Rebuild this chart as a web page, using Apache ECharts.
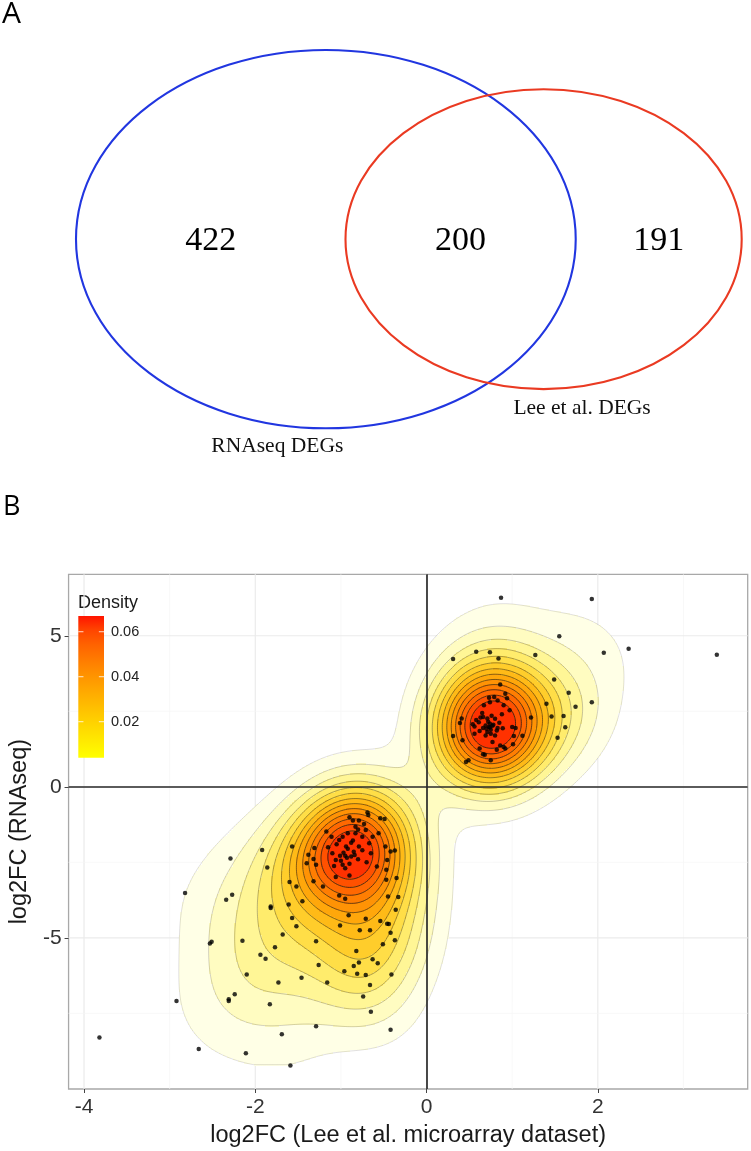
<!DOCTYPE html>
<html><head><meta charset="utf-8">
<script src="https://cdn.jsdelivr.net/npm/echarts@6/dist/echarts.min.js"></script>
<style>html,body{margin:0;padding:0;background:#fff}#c{width:751px;height:1151px}</style>
</head><body><div id="c"></div><script>
// ================= DATA =================
const vennSetNames = ['RNAseq DEGs', 'Lee et al. DEGs'];
const vennRegionCounts = [422, 200, 191]; // RNAseq only, both, Lee only

// log2FC pairs [Lee microarray, RNAseq]
const genePoints = [
[0.87,6.26],[1.93,6.22],[1.55,4.98],[2.07,4.44],[2.36,4.57],[3.39,4.37],[0.31,4.23],[0.58,4.47],[0.74,4.45],[0.84,4.25],
[1.27,4.36],[1.49,3.55],[1.66,3.11],[1.74,2.65],[1.93,2.80],[1.40,2.75],[1.60,2.34],[1.46,2.33],[1.62,1.97],[1.53,1.62],
[1.22,2.29],[1.12,1.69],[0.86,3.39],[0.31,1.68],[0.39,2.11],[0.41,2.26],[0.46,0.82],[0.49,0.88],[0.75,0.88],[0.66,1.08],
[0.68,1.06],[0.62,1.27],[0.90,1.32],[0.92,1.27],[0.82,1.23],[1.01,1.41],[1.02,1.68],[0.42,1.54],
[0.56,2.00],[0.54,2.07],[0.58,2.21],[0.65,2.44],[0.67,2.70],[0.73,2.95],[0.79,2.97],[0.83,2.86],[0.74,2.80],[0.92,3.08],
[0.94,2.93],[0.90,2.70],[0.89,1.94],[1.04,1.95],[0.74,2.09],[0.73,1.98],[0.75,1.89],[0.71,1.81],[0.75,1.76],[0.77,1.48],
[0.69,1.70],[0.61,2.14],[0.63,2.29],[0.56,1.76],[0.66,2.31],[0.69,2.03],[0.82,1.86],[0.86,1.37],[1.00,1.98],[0.97,2.53],
[0.72,2.15],[0.78,2.05],[0.70,1.92],[0.80,2.25],[0.85,2.12],[0.66,1.95],[0.76,2.35],[0.88,2.40],[0.62,1.85],[0.80,1.70],
[0.77,2.02],[0.74,1.96],[0.83,1.95],[0.71,2.26],
[-0.69,-0.85],[-0.68,-0.93],[-0.54,-1.04],[-0.49,-1.07],[-0.90,-1.01],[-0.86,-1.12],[-0.79,-1.12],[-0.73,-1.23],[-0.83,-1.32],[-0.92,-1.54],
[-0.98,-1.65],[-1.17,-1.48],[-1.11,-1.65],[-1.02,-1.76],[-0.94,-1.98],[-1.01,-2.28],[-0.95,-2.28],[-0.88,-2.31],[-1.06,-2.42],[-0.98,-2.58],
[-1.31,-2.03],[-1.38,-2.25],[-1.32,-2.39],[-1.40,-2.53],[-1.29,-2.58],[-1.57,-1.98],[-1.92,-2.09],[-2.29,-2.37],[-1.86,-2.67],[-0.71,-1.43],
[-0.63,-1.65],[-0.56,-1.54],[-0.48,-1.98],[-0.42,-2.14],[-0.37,-2.11],[-0.46,-2.42],[-0.58,-2.64],[-0.75,-1.65],[-0.83,-1.54],[-0.80,-1.41],
[-0.67,-1.87],[-0.65,-2.20],[-0.79,-1.98],[-0.86,-1.78],
[-0.92,-2.05],[-0.85,-2.15],[-1.00,-2.45],[-0.90,-2.55],[-1.10,-2.20],[-0.80,-2.40],[-0.95,-2.70],[-1.15,-2.00],[-0.75,-2.10],[-1.05,-1.90],
[-0.88,-1.85],[-0.70,-2.50],[-0.93,-2.35],[-0.97,-2.18],[-0.84,-2.26],[-1.08,-2.62],
[-1.60,-3.15],[-1.52,-3.30],[-2.82,-3.52],[-2.34,-3.74],[-2.27,-3.57],[-1.82,-3.96],[-1.82,-4.01],[-1.61,-3.90],[-1.45,-3.79],[-1.57,-4.34],
[-1.52,-4.62],[-1.68,-4.89],[-1.77,-5.31],[-2.53,-5.19],[-2.51,-5.13],[-2.15,-5.10],[-1.94,-5.56],[-1.88,-5.69],[-2.10,-6.21],[-1.73,-6.48],
[-1.46,-6.32],[-1.29,-5.11],[-1.26,-5.90],[-1.16,-6.48],[-1.01,-4.59],[-0.91,-4.25],[-0.96,-6.11],[-0.82,-5.44],[-0.81,-6.19],[-0.78,-4.75],
[-0.71,-6.23],[-0.85,-5.93],[-0.79,-5.82],[-0.71,-4.37],[-0.66,-4.75],[-0.63,-5.71],[-0.57,-5.84],[-0.54,-4.44],[-0.51,-5.21],[-0.46,-4.53],
[-0.45,-3.63],[-0.42,-4.83],[-0.41,-6.21],[-0.37,-5.08],[-0.36,-4.07],[-0.66,-6.56],[-0.74,-6.94],[-0.65,-7.45],[-0.42,-8.04],[-1.29,-7.93],
[-1.69,-8.19],[-1.83,-7.20],[-2.11,-8.82],[-1.59,-9.23],[-2.31,-7.03],[-2.31,-7.09],[-2.24,-6.87],[-2.92,-7.09],[-2.66,-8.68],[-3.82,-8.30],
[-1.02,-3.60],[-0.95,-3.71],[-1.21,-3.30],[-1.32,-3.13],[-0.47,-2.75],[-1.06,-2.99],[-0.90,-2.94],[-0.47,-3.08],[-0.35,-3.02],[-0.33,-3.65],
[-0.44,-4.54]
];

const densityLevels = [0.005,0.010,0.015,0.020,0.025,0.030,0.035,0.040,0.045,0.050,0.055,0.060,0.065];
const legendRange = [0.004, 0.067];
const legendTicks = [0.02, 0.04, 0.06];
const xTicks = [-4, -2, 0, 2];
const xMinorGrid = [-3, -1, 1, 3];
const yTicks = [-5, 0, 5];
const yMinorGrid = [-7.5, -2.5, 2.5];
const refLineX = [0];
const refLineY = [0];

// ================= VENN GEOMETRY (area-proportional) =================
const nA = vennRegionCounts[0] + vennRegionCounts[1];
const nB = vennRegionCounts[2] + vennRegionCounts[1];
const rA = Math.sqrt(nA / Math.PI), rB = Math.sqrt(nB / Math.PI);
function overlapArea(d) {
  if (d >= rA + rB) return 0;
  if (d <= Math.abs(rA - rB)) return Math.PI * Math.min(rA, rB) ** 2;
  const a1 = Math.acos((d*d + rA*rA - rB*rB) / (2*d*rA));
  const a2 = Math.acos((d*d + rB*rB - rA*rA) / (2*d*rB));
  return rA*rA*a1 + rB*rB*a2 - 0.5*Math.sqrt((-d+rA+rB)*(d+rA-rB)*(d-rA+rB)*(d+rA+rB));
}
let lo = Math.abs(rA - rB), hi = rA + rB;
for (let it = 0; it < 100; it++) { const m = (lo+hi)/2; if (overlapArea(m) > vennRegionCounts[1]) lo = m; else hi = m; }
const dAB = (lo + hi) / 2;
const vennCircles = [[0, 0, rA, 0], [dAB, 0, rB, 1]];
const vennNumbers = [
  [(-rA + (dAB - rB)) / 2, 0, vennRegionCounts[0]],
  [((dAB - rB) + rA) / 2, 0, vennRegionCounts[1]],
  [(rA + dAB + rB) / 2, 0, vennRegionCounts[2]]
];
const catAngle = 11.2 * Math.PI / 180;
const vennNameAnchors = [
  [-rA * Math.sin(catAngle), -rA * Math.cos(catAngle), 0],
  [dAB + rB * Math.sin(catAngle), -rB * Math.cos(catAngle), 1]
];

// ================= 2D KDE (MASS::kde2d style) =================
const X = genePoints.map(p => p[0]), Y = genePoints.map(p => p[1]);
const n = X.length;
const xr = [Math.min(...X), Math.max(...X)], yr = [Math.min(...Y), Math.max(...Y)];
const xLim = [xr[0] - 0.05*(xr[1]-xr[0]), xr[1] + 0.05*(xr[1]-xr[0])];
const yLim = [yr[0] - 0.05*(yr[1]-yr[0]), yr[1] + 0.05*(yr[1]-yr[0])];
function q7(s, p) { const h = (s.length-1)*p, l = Math.floor(h); return s[l] + (h-l)*(s[Math.min(l+1, s.length-1)] - s[l]); }
function bwNrd(v) {
  const s = [...v].sort((a,b)=>a-b);
  const iqr = q7(s, .75) - q7(s, .25);
  const m = v.reduce((a,b)=>a+b, 0) / v.length;
  const sd = Math.sqrt(v.reduce((a,b)=>a+(b-m)**2, 0) / (v.length-1));
  return 4 * 1.06 * Math.min(sd, iqr/1.34) * Math.pow(v.length, -0.2);
}
const hx = bwNrd(X) / 4, hy = bwNrd(Y) / 4;
const NX = 320, NY = 240;
const dx = (xr[1]-xr[0]) / NX, dy = (yr[1]-yr[0]) / NY;
const cxs = Array.from({length: NX}, (_, i) => xr[0] + (i+0.5)*dx);
const cys = Array.from({length: NY}, (_, j) => yr[0] + (j+0.5)*dy);
const KX = new Float64Array(NX*n), KY = new Float64Array(NY*n);
const s2p = Math.sqrt(2*Math.PI);
for (let i = 0; i < NX; i++) for (let k = 0; k < n; k++) { const u = (cxs[i]-X[k])/hx; KX[i*n+k] = Math.exp(-0.5*u*u)/(hx*s2p); }
for (let j = 0; j < NY; j++) for (let k = 0; k < n; k++) { const u = (cys[j]-Y[k])/hy; KY[j*n+k] = Math.exp(-0.5*u*u)/(hy*s2p); }
const Z = new Float64Array(NX*NY);
for (let j = 0; j < NY; j++) for (let i = 0; i < NX; i++) {
  let s = 0; const oi = i*n, oj = j*n;
  for (let k = 0; k < n; k++) s += KX[oi+k]*KY[oj+k];
  Z[j*NX+i] = s / n;
}

// padded lattice for closed contours
const PX = NX + 2, PY = NY + 2;
const gx = [xr[0], ...cxs, xr[1]], gy = [yr[0], ...cys, yr[1]];
const ZP = new Float64Array(PX*PY);
for (let j = 0; j < NY; j++) for (let i = 0; i < NX; i++) ZP[(j+1)*PX + (i+1)] = Z[j*NX+i];

function contourPolylines(level) {
  const segs = [];
  const val = (i, j) => ZP[j*PX+i];
  const pt = (i0, j0, i1, j1) => { const v0 = val(i0,j0), v1 = val(i1,j1); const t = (level - v0)/(v1 - v0); return [gx[i0] + t*(gx[i1]-gx[i0]), gy[j0] + t*(gy[j1]-gy[j0])]; };
  for (let j = 0; j < PY-1; j++) for (let i = 0; i < PX-1; i++) {
    const a = val(i,j) >= level, b = val(i+1,j) >= level, c = val(i+1,j+1) >= level, d = val(i,j+1) >= level;
    if (a === b && b === c && c === d) continue;
    const E = {};
    if (a !== b) E.bot = [(j*PX+i)*2, pt(i,j,i+1,j)];
    if (b !== c) E.right = [(j*PX+i+1)*2+1, pt(i+1,j,i+1,j+1)];
    if (c !== d) E.top = [((j+1)*PX+i)*2, pt(i,j+1,i+1,j+1)];
    if (d !== a) E.left = [(j*PX+i)*2+1, pt(i,j,i,j+1)];
    const ks = Object.keys(E);
    if (ks.length === 2) segs.push([E[ks[0]], E[ks[1]]]);
    else if (ks.length === 4) {
      const centerHigh = (val(i,j)+val(i+1,j)+val(i+1,j+1)+val(i,j+1))/4 >= level;
      const cutAC = (a && centerHigh) ? false : (a ? true : centerHigh);
      if (cutAC) { segs.push([E.bot, E.left]); segs.push([E.right, E.top]); }
      else { segs.push([E.bot, E.right]); segs.push([E.top, E.left]); }
    }
  }
  const adj = new Map();
  segs.forEach((s, idx) => { for (const e of s) { if (!adj.has(e[0])) adj.set(e[0], []); adj.get(e[0]).push(idx); } });
  const used = new Uint8Array(segs.length);
  const lines = [];
  for (let s0 = 0; s0 < segs.length; s0++) {
    if (used[s0]) continue; used[s0] = 1;
    const line = [segs[s0][0][1], segs[s0][1][1]];
    let endK = segs[s0][1][0];
    for (;;) { const c = (adj.get(endK) || []).find(t => !used[t]); if (c === undefined) break; used[c] = 1;
      const s = segs[c]; if (s[0][0] === endK) { line.push(s[1][1]); endK = s[1][0]; } else { line.push(s[0][1]); endK = s[0][0]; } }
    let startK = segs[s0][0][0];
    for (;;) { const c = (adj.get(startK) || []).find(t => !used[t]); if (c === undefined) break; used[c] = 1;
      const s = segs[c]; if (s[0][0] === startK) { line.unshift(s[1][1]); startK = s[1][0]; } else { line.unshift(s[0][1]); startK = s[0][0]; } }
    lines.push(line.map(p => [Math.min(xr[1], Math.max(xr[0], p[0])), Math.min(yr[1], Math.max(yr[0], p[1]))]));
  }
  return lines;
}
const contourLines = [];
const contourItems = [];
densityLevels.forEach((L, li) => contourPolylines(L).forEach(pl => { contourItems.push([pl[0][0], pl[0][1], contourLines.length, li]); contourLines.push(pl); }));

// raster runs of density bands
const bandRuns = [];
const bandOf = z => { let b = 0; while (b < densityLevels.length && z >= densityLevels[b]) b++; return b; };
for (let j = 0; j < NY; j++) {
  let i = 0;
  while (i < NX) {
    const b = bandOf(Z[j*NX+i]);
    let i2 = i + 1;
    while (i2 < NX && bandOf(Z[j*NX+i2]) === b) i2++;
    if (b > 0) bandRuns.push([xr[0] + i*dx, xr[0] + i2*dx, yr[0] + j*dy, yr[0] + (j+1)*dy, b]);
    i = i2;
  }
}

// ================= COLOURS =================
function s2l(c){c/=255;return c<=0.04045?c/12.92:Math.pow((c+0.055)/1.055,2.4);}
function l2s(c){c=c<=0.0031308?12.92*c:1.055*Math.pow(c,1/2.4)-0.055;return Math.max(0,Math.min(255,Math.round(c*255)));}
function rgb2lab([r,g,b]){const R=s2l(r),G=s2l(g),B=s2l(b);const x=(0.4124*R+0.3576*G+0.1805*B)/0.95047,y=0.2126*R+0.7152*G+0.0722*B,z=(0.0193*R+0.1192*G+0.9505*B)/1.08883;const f=t=>t>0.008856?Math.cbrt(t):7.787*t+16/116;const fx=f(x),fy=f(y),fz=f(z);return[116*fy-16,500*(fx-fy),200*(fy-fz)];}
function lab2rgb([L,a,b]){const fy=(L+16)/116,fx=fy+a/500,fz=fy-b/200;const fi=t=>t*t*t>0.008856?t*t*t:(t-16/116)/7.787;const x=fi(fx)*0.95047,y=fi(fy),z=fi(fz)*1.08883;return[l2s(3.2406*x-1.5372*y-0.4986*z),l2s(-0.9689*x+1.8758*y+0.0415*z),l2s(0.0557*x-0.2040*y+1.0570*z)];}
const LAB_LO = rgb2lab([255,255,0]), LAB_HI = rgb2lab([255,20,0]);
function grad(t){ t = Math.max(0, Math.min(1, t)); return lab2rgb(LAB_LO.map((v,i)=>v+(LAB_HI[i]-v)*t)); }
const rgbStr = c => 'rgb(' + c.map(Math.round).join(',') + ')';
const bandColors = [null];
{
  let col = [255,255,255];
  const K = densityLevels.length;
  densityLevels.forEach((L, k) => {
    const a = 0.10 + 0.72 * k / (K-1);
    const c = grad((L - legendRange[0]) / (legendRange[1] - legendRange[0]));
    col = col.map((v,i) => v*(1-a) + c[i]*a);
    bandColors.push(rgbStr(col));
  });
}
const lineAlpha = k => 0.14 + 0.74 * k / (densityLevels.length - 1);

// ================= CHART =================
const chart = echarts.init(document.getElementById('c'), null, {renderer: 'canvas'});
const serif = '"Liberation Serif", "DejaVu Serif", serif';
const sans = '"Liberation Sans", Arial, sans-serif';
const vennColors = ['#2136e0', '#ea3a22'];

const gridItems = [];
xTicks.forEach(v => gridItems.push([0, v, 1])); xMinorGrid.forEach(v => gridItems.push([0, v, 0]));
yTicks.forEach(v => gridItems.push([1, v, 1])); yMinorGrid.forEach(v => gridItems.push([1, v, 0]));

chart.setOption({
  animation: false,
  grid: [
    {left: 76, right: 9.3, top: 50, bottom: 722.7, show: false},
    {left: 59.3, right: 3.3, top: 574.3, bottom: 62, show: true, borderColor: '#a8a8a8', borderWidth: 1.3, backgroundColor: 'transparent'},
    {left: 78.3, width: 25.7, top: 616, height: 141.7, show: false}
  ],
  xAxis: [
    {gridIndex: 0, type: 'value', min: -rA, max: dAB + rB, show: false},
    {gridIndex: 1, type: 'value', min: xLim[0], max: xLim[1],
      axisLine: {show: false, onZero: false},
      axisTick: {show: true, customValues: xTicks, length: 4, lineStyle: {color: '#444', width: 1}},
      axisLabel: {customValues: xTicks, fontSize: 21, color: '#333', margin: 8, fontFamily: sans},
      splitLine: {show: false},
      name: 'log2FC (Lee et al. microarray dataset)', nameLocation: 'middle', nameGap: 35,
      nameTextStyle: {fontSize: 23.5, color: '#1a1a1a', fontFamily: sans}},
    {gridIndex: 2, type: 'value', min: 0, max: 1, show: false}
  ],
  yAxis: [
    {gridIndex: 0, type: 'value', min: -rA, max: rA, show: false},
    {gridIndex: 1, type: 'value', min: yLim[0], max: yLim[1],
      axisLine: {show: false, onZero: false},
      axisTick: {show: true, customValues: yTicks, length: 4, lineStyle: {color: '#444', width: 1}},
      axisLabel: {customValues: yTicks, fontSize: 21, color: '#333', margin: 7, fontFamily: sans},
      splitLine: {show: false},
      name: 'log2FC (RNAseq)', nameLocation: 'middle', nameGap: 30, nameRotate: 90,
      nameTextStyle: {fontSize: 23.5, color: '#1a1a1a', fontFamily: sans}},
    {gridIndex: 2, type: 'value', min: legendRange[0], max: legendRange[1], position: 'right',
      axisLine: {show: false}, axisTick: {show: false}, splitLine: {show: false},
      axisLabel: {customValues: legendTicks, formatter: v => v.toFixed(2), fontSize: 14.5, color: '#222', margin: 7, fontFamily: sans}}
  ],
  graphic: [
    {type: 'text', x: 2, y: 14, style: {text: 'A', fontSize: 30, fontFamily: '"Open Sans", sans-serif', fill: '#000', verticalAlign: 'middle'}},
    {type: 'text', x: 3, y: 507.5, style: {text: 'B', fontSize: 27, fontFamily: '"Open Sans", sans-serif', fill: '#000', verticalAlign: 'middle'}},
    {type: 'text', x: 78, y: 603, style: {text: 'Density', fontSize: 18, fontFamily: sans, fill: '#1a1a1a', verticalAlign: 'middle'}}
  ],
  series: [
    // Venn circles
    {type: 'custom', xAxisIndex: 0, yAxisIndex: 0, data: vennCircles, silent: true,
      renderItem(params, api) {
        const c = api.coord([api.value(0), api.value(1)]);
        const s = api.size([api.value(2), api.value(2)]);
        return {type: 'ellipse', shape: {cx: c[0], cy: c[1], rx: s[0], ry: s[1]},
          style: {fill: 'none', stroke: vennColors[api.value(3)], lineWidth: 2.1}};
      }},
    // Venn region counts
    {type: 'custom', xAxisIndex: 0, yAxisIndex: 0, data: vennNumbers, silent: true,
      renderItem(params, api) {
        const c = api.coord([api.value(0), api.value(1)]);
        return {type: 'text', x: c[0], y: c[1] + 2, style: {text: String(api.value(2)), fontSize: 34, fontFamily: serif, fill: '#000', align: 'center', verticalAlign: 'middle'}};
      }},
    // Venn set names
    {type: 'custom', xAxisIndex: 0, yAxisIndex: 0, data: vennNameAnchors, silent: true,
      renderItem(params, api) {
        const c = api.coord([api.value(0), api.value(1)]);
        return {type: 'text', x: c[0], y: c[1] + 22, style: {text: vennSetNames[api.value(2)], fontSize: 21.5, fontFamily: serif, fill: '#111', align: 'center', verticalAlign: 'middle'}};
      }},
    // grid lines
    {type: 'custom', xAxisIndex: 1, yAxisIndex: 1, data: gridItems, silent: true, z: 0,
      renderItem(params, api) {
        const o = api.value(0), v = api.value(1), major = api.value(2);
        const p0 = o === 0 ? api.coord([v, yLim[0]]) : api.coord([xLim[0], v]);
        const p1 = o === 0 ? api.coord([v, yLim[1]]) : api.coord([xLim[1], v]);
        return {type: 'line', shape: {x1: p0[0], y1: p0[1], x2: p1[0], y2: p1[1]},
          style: {stroke: major ? '#ebebeb' : '#f5f5f5', lineWidth: major ? 1.2 : 0.7}};
      }},
    // density band fill
    {type: 'custom', xAxisIndex: 1, yAxisIndex: 1, data: bandRuns, silent: true, z: 1, progressive: 0,
      encode: {x: [0, 1], y: [2, 3]},
      renderItem(params, api) {
        const p0 = api.coord([api.value(0), api.value(3)]);
        const p1 = api.coord([api.value(1), api.value(2)]);
        const x0 = Math.round(p0[0]), y0 = Math.round(p0[1]), x1 = Math.round(p1[0]), y1 = Math.round(p1[1]);
        return {type: 'rect', shape: {x: x0, y: y0, width: x1 - x0, height: y1 - y0}, style: {fill: bandColors[api.value(4)]}};
      }},
    // contour lines
    {type: 'custom', xAxisIndex: 1, yAxisIndex: 1, data: contourItems, silent: true, z: 2, progressive: 0,
      renderItem(params, api) {
        const pl = contourLines[api.value(2)];
        const pts = pl.map(p => api.coord(p));
        return {type: 'polyline', shape: {points: pts},
          style: {fill: null, stroke: 'rgba(45,35,20,' + lineAlpha(api.value(3)).toFixed(3) + ')', lineWidth: 1}};
      }},
    // reference lines + points
    {type: 'scatter', xAxisIndex: 1, yAxisIndex: 1, data: genePoints, symbolSize: 4.5, z: 4,
      itemStyle: {color: '#000'}, silent: true,
      markLine: {silent: true, symbol: ['none', 'none'], label: {show: false},
        lineStyle: {color: '#2a2a2a', width: 1.7, type: 'solid'},
        data: [...refLineX.map(v => ({xAxis: v})), ...refLineY.map(v => ({yAxis: v}))]}},
    // colourbar
    {type: 'custom', xAxisIndex: 2, yAxisIndex: 2, data: [[0, legendRange[0], legendRange[1]]], silent: true,
      renderItem(params, api) {
        const p0 = api.coord([0, api.value(2)]), p1 = api.coord([1, api.value(1)]);
        const stops = [];
        for (let s = 0; s <= 10; s++) stops.push({offset: s/10, color: rgbStr(grad(1 - s/10))});
        const children = [{type: 'rect', shape: {x: p0[0], y: p0[1], width: p1[0]-p0[0], height: p1[1]-p0[1]},
          style: {fill: {type: 'linear', x: 0, y: 0, x2: 0, y2: 1, colorStops: stops}}}];
        legendTicks.forEach(t => {
          const q = api.coord([0, t]);
          const w = (p1[0]-p0[0]) / 5;
          children.push({type: 'line', shape: {x1: p0[0], y1: q[1], x2: p0[0]+w, y2: q[1]}, style: {stroke: 'rgba(255,255,255,0.8)', lineWidth: 1}});
          children.push({type: 'line', shape: {x1: p1[0]-w, y1: q[1], x2: p1[0], y2: q[1]}, style: {stroke: 'rgba(255,255,255,0.8)', lineWidth: 1}});
        });
        return {type: 'group', children};
      }}
  ]
});
</script></body></html>
